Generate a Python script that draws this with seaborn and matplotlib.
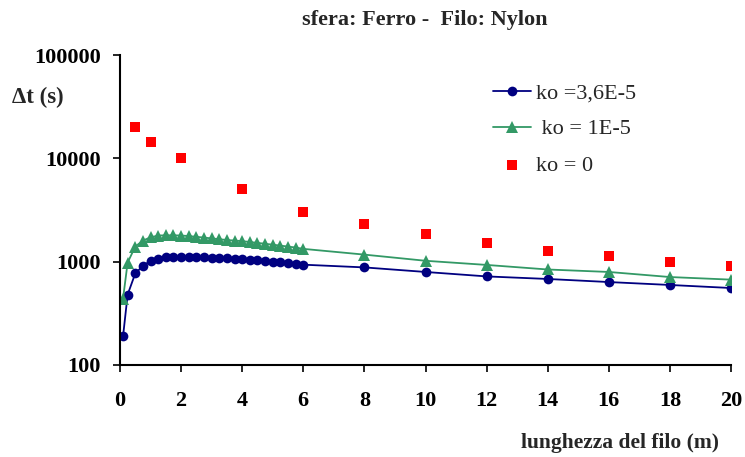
import numpy as np
import pandas as pd
import matplotlib
matplotlib.use("Agg")
import matplotlib.pyplot as plt
import seaborn as sns

# lunghezza del filo (m)
x_fine = [0.1, 0.25, 0.5, 0.75, 1.0, 1.25, 1.5, 1.75, 2.0, 2.25, 2.5, 2.75, 3.0,
          3.25, 3.5, 3.75, 4.0, 4.25, 4.5, 4.75, 5.0, 5.25, 5.5, 5.75, 6.0,
          8, 10, 12, 14, 16, 18, 20]

# ko = 3,6E-5
dt_36 = [190, 480, 770, 910, 1020, 1070, 1100, 1115, 1120, 1120, 1120, 1115, 1095,
         1085, 1075, 1062, 1050, 1040, 1030, 1015, 1000, 990, 972, 955, 935,
         880, 795, 720, 680, 635, 595, 556]

# ko = 1E-5
dt_1 = [440, 980, 1400, 1600, 1720, 1790, 1800, 1800, 1790, 1770, 1740, 1710, 1680,
        1650, 1620, 1600, 1580, 1550, 1520, 1490, 1460, 1430, 1400, 1370, 1330,
        1170, 1020, 930, 840, 795, 710, 670]

# ko = 0
x_zero = [0.5, 1, 2, 4, 6, 8, 10, 12, 14, 16, 18, 20]
dt_0 = [20000, 14300, 10000, 5000, 3000, 2300, 1850, 1500, 1280, 1140, 1000, 900]

sns.set_style("white")
plt.rcParams['font.family'] = ['Liberation Serif', 'DejaVu Serif']

fig = plt.figure(figsize=(7.45, 4.57), dpi=100)
ax = fig.add_axes([120/745, 1-365/457, 611/745, 310/457])

sns.lineplot(x=x_fine, y=dt_36, ax=ax, color="#000080", marker="o", markersize=7,
             markeredgewidth=0, linewidth=1.3, label="ko =3,6E-5", sort=False)
sns.lineplot(x=x_fine, y=dt_1, ax=ax, color="#339966", marker="^", markersize=8,
             markeredgewidth=0, linewidth=1.3, label=" ko = 1E-5", sort=False)
sns.scatterplot(x=x_zero, y=dt_0, ax=ax, color="#FF0000", marker="s", s=45,
                linewidth=0, label="ko = 0")

ax.set_yscale("log")
ax.set_ylim(100, 100000)
ax.set_xlim(0, 20)
ax.set_xticks(range(0, 21, 2))
ax.set_yticks([100, 1000, 10000, 100000])
ax.set_yticklabels(["100", "1000", "10000", "100000"])
ax.minorticks_off()
ax.tick_params(axis="both", direction="out", length=5, width=1.2, colors="black",
               labelsize=16, left=True, bottom=True)
ax.tick_params(axis="x", pad=14)
ax.tick_params(axis="y", pad=9)
for lab in ax.get_xticklabels() + ax.get_yticklabels():
    lab.set_fontweight("bold")
sns.despine(ax=ax)
for sp in ["left", "bottom"]:
    ax.spines[sp].set_color("black")
    ax.spines[sp].set_linewidth(1.5)
ax.set_xlabel("")
ax.set_ylabel("")

leg = ax.legend(loc="upper left", bbox_to_anchor=(0.578, 0.975), frameon=False,
                fontsize=16, handlelength=1.7, labelspacing=0.7, handletextpad=0.25)

fig.text(425/745, 1-20/457, "sfera: Ferro -  Filo: Nylon", ha="center", va="center",
         fontsize=16, fontweight="bold")
fig.text(12/745, 1-97/457, "\u0394t (s)", ha="left", va="center",
         fontsize=16.5, fontweight="bold")
fig.text(620/745, 1-443/457, "lunghezza del filo (m)", ha="center", va="center",
         fontsize=15.5, fontweight="bold")

fig.savefig("out.png", dpi=100)
